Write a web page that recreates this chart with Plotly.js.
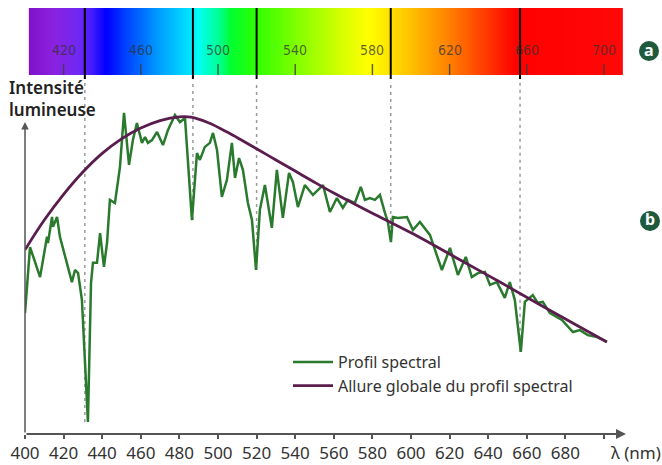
<!DOCTYPE html>
<html><head><meta charset="utf-8">
<script src="https://cdn.plot.ly/plotly-3.0.1.min.js"></script>
<style>html,body{margin:0;padding:0;background:#fff}#chart{width:662px;height:465px}</style>
</head><body><div id="chart"></div>
<script>
// ---------- DATA ----------
const wavelengthSpectral = [400.0,402.6,407.8,409.3,411.4,411.9,414.0,414.5,416.6,418.1,
420.7,422.3,424.3,425.9,427.5,429.5,431.1,432.6,434.2,435.2,
437.3,438.9,440.9,442.5,444.0,446.6,449.2,451.3,453.9,455.9,
458.0,460.6,462.2,463.7,465.8,468.4,471.5,474.1,477.7,480.3,
482.9,486.5,489.1,490.6,493.2,495.8,497.4,499.5,502.0,504.6,
507.2,508.8,510.9,512.9,515.5,517.6,519.7,521.7,524.3,527.9,
530.5,533.6,536.8,538.8,541.4,545.0,549.2,554.4,558.0,561.6,
564.7,567.3,570.9,574.0,576.1,578.7,581.3,583.9,586.5,588.0,
589.6,590.6,593.2,597.9,601.0,604.6,609.8,616.0,620.2,624.3,
628.4,631.5,634.7,638.3,640.9,644.5,648.6,651.2,653.8,656.9,
659.0,663.1,665.7,668.3,672.0,678.2,683.9,687.5,691.6,696.3,
701.5];
const intensitySpectral = [39.0,60.3,50.6,56.1,63.6,61.6,70.0,66.8,70.0,63.6,
57.1,53.9,49.0,52.9,51.9,43.2,21.6,3.9,48.7,55.2,
55.2,64.8,53.9,61.6,75.5,74.5,86.1,103.6,86.8,94.8,
100.3,93.9,95.8,93.9,94.8,97.4,93.2,98.1,102.9,100.6,
101.9,69.0,90.6,88.4,92.6,93.9,97.1,91.6,76.5,81.9,
93.9,82.6,89.0,85.2,74.5,69.0,52.9,72.3,80.3,66.5,
85.2,69.7,84.2,81.3,73.2,80.3,77.1,80.3,71.6,76.1,
72.9,75.5,74.5,79.7,75.5,76.1,75.5,77.1,71.3,68.4,
61.9,70.0,69.7,70.0,65.8,68.4,64.2,52.9,60.0,51.3,
57.1,50.6,51.9,52.3,48.1,49.0,43.9,49.0,43.2,26.5,
42.6,44.8,42.3,42.6,39.0,36.8,32.9,33.5,31.9,31.3,
29.7];
const wavelengthEnvelope = [400,410,420,430,440,450,460,470,480,486,495,505,513,520,530,540,550,560,570,580,604.6,625.3,646.1,666.8,687.5,701.5];
const intensityEnvelope  = [59.4,69.0,77.3,84.5,90.5,95.2,98.7,101.1,102.3,102.2,100.4,97.3,94.5,92.0,88.4,84.8,81.2,77.7,74.4,71.2,63.4,56.2,49.0,41.7,34.5,29.7];
const xTickValues = [400,420,440,460,480,500,520,540,560,580,600,620,640,660,680,700];
const xTickLabels = ["400","420","440","460","480","500","520","540","560","580","600","620","640","660","680",""];
const spectrumLabels = [420,460,500,540,580,620,660,700];
const absorptionLines = [431,487,520,589.5,656.5];
const spectrumStopWl = [402,415,428,436,442,455,470,484,490,500,507,520,545,565,578,590,605,620,635,648,655,710];
const spectrumStopColor = ['#8012c8','#8a22e0','#7028f4','#3818ff','#0000ff','#0050ff','#00a0ff','#00dcff','#00fff4','#00ff98','#00ff30','#30ff00','#90ff00','#d8ff00','#ffff00','#ffe000','#ffb000','#ff8000','#ff4800','#ff1800','#ff0000','#ff0808'];
const legendNames = ["Profil spectral","Allure globale du profil spectral"];

// ---------- GEOMETRY ----------
const W=662,H=465,L=25,R=36,T=8,B=31;
const xMin=400, xMax=711.4, yMax=137.4;
const PW=W-L-R, PH=H-T-B;
const yD = p => (H-B-p)*yMax/PH;        // pixel row -> data y
const xP = p => (p-L)/PW, yP = p => (H-B-p)/PH; // pixel -> paper

// spectrum gradient (decorative colour bar)
const wl0=spectrumStopWl[0], wl1=spectrumStopWl[spectrumStopWl.length-1];
const barEdges=[], barZ=[];
for(let w=wl0; w<=wl1; w+=1){ barEdges.push(w); }
for(let i=0;i<barEdges.length-1;i++){ barZ.push((barEdges[i]+barEdges[i+1])/2); }
const colorscale = spectrumStopWl.map((w,i)=>[(w-wl0)/(wl1-wl0), spectrumStopColor[i]]);

const FONT="Noto Sans, Open Sans, DejaVu Sans, sans-serif";

const traces = [
 {type:'heatmap', x:barEdges, y:[yD(75), yD(8)], z:[barZ], zmin:wl0, zmax:wl1,
  colorscale:colorscale, showscale:false, hoverinfo:'skip', showlegend:false},
 {type:'scatter', mode:'lines', name:legendNames[0], x:wavelengthSpectral, y:intensitySpectral,
  line:{color:'#2a7a2e', width:2.5}},
 {type:'scatter', mode:'lines', name:legendNames[1], x:wavelengthEnvelope, y:intensityEnvelope,
  line:{color:'#5a1d4e', width:2.8, shape:'spline', smoothing:1}}
];

function depthAt(w){
  let m=Infinity;
  wavelengthSpectral.forEach((x,i)=>{ if(Math.abs(x-w)<=2.5) m=Math.min(m,intensitySpectral[i]); });
  return m;
}

const shapes=[];
absorptionLines.forEach(w=>{
  shapes.push({type:'line', xref:'x', yref:'y', x0:w, x1:w, y0:yD(79), y1:yMax, line:{color:'#000', width:2}, layer:'above'});
  shapes.push({type:'line', xref:'x', yref:'y', x0:w, x1:w, y0:depthAt(w), y1:yD(82), line:{color:'#9a9a9a', width:1.5, dash:'3px,4px'}, layer:'below'});
});
spectrumLabels.forEach(w=>{
  shapes.push({type:'line', xref:'x', yref:'y', x0:w, x1:w, y0:yD(75), y1:yD(64), line:{color:'rgba(60,60,60,0.8)', width:1.5}, layer:'above'});
});
[[649,51,'a'],[650,221,'b']].forEach(c=>{
  shapes.push({type:'circle', xref:'paper', yref:'paper', xsizemode:'pixel', ysizemode:'pixel',
    xanchor:xP(c[0]), yanchor:yP(c[1]), x0:-10, x1:10, y0:-10, y1:10,
    fillcolor:'#1e5a3c', line:{width:0}});
});

const annotations=[
 {x:xMax, y:0, ax:xMin, ay:0, axref:'x', ayref:'y', xref:'x', yref:'y', text:'', showarrow:true,
  arrowhead:2, arrowsize:1, arrowwidth:2, arrowcolor:'#555', standoff:0, startstandoff:0},
 {x:xMin, y:yD(122), ax:xMin, ay:0, axref:'x', ayref:'y', xref:'x', yref:'y', text:'', showarrow:true,
  arrowhead:2, arrowsize:1, arrowwidth:1.5, arrowcolor:'#555', standoff:0, startstandoff:0},
 {xref:'paper', yref:'paper', x:xP(609), y:yP(452), xanchor:'left', yanchor:'middle', showarrow:false,
  text:'λ (nm)', font:{family:FONT, size:17, color:'#333'}},
 {xref:'paper', yref:'paper', x:xP(7), y:yP(98), xanchor:'left', yanchor:'middle', showarrow:false, align:'left',
  text:'Intensité<br>lumineuse', font:{family:FONT, size:17, color:'#222', weight:600}},
 {xref:'paper', yref:'paper', x:xP(649), y:yP(50), xanchor:'center', yanchor:'middle', showarrow:false,
  text:'a', font:{family:FONT, size:16, color:'#fff', weight:700}},
 {xref:'paper', yref:'paper', x:xP(650), y:yP(219), xanchor:'center', yanchor:'middle', showarrow:false,
  text:'b', font:{family:FONT, size:16, color:'#fff', weight:700}}
];
spectrumLabels.forEach(w=>{
  annotations.push({xref:'x', yref:'y', x:w, y:yD(50), showarrow:false, text:String(w),
    font:{family:"Liberation Sans Narrow, DejaVu Sans Condensed, sans-serif", size:14, color:'rgba(50,50,50,0.75)'}});
});

const layout={
  width:W, height:H, margin:{l:L, r:R, t:T, b:B, pad:0},
  paper_bgcolor:'#fff', plot_bgcolor:'rgba(0,0,0,0)',
  showlegend:true,
  legend:{x:xP(288), y:yP(345), xanchor:'left', yanchor:'top', bgcolor:'rgba(0,0,0,0)',
    font:{family:FONT, size:16, color:'#333'}, itemwidth:40, tracegroupgap:0},
  xaxis:{range:[xMin,xMax], showgrid:false, zeroline:false, showline:false,
    tickmode:'array', tickvals:xTickValues, ticktext:xTickLabels,
    ticks:'outside', ticklen:4, tickwidth:2, tickcolor:'#555',
    tickfont:{family:FONT, size:17, color:'#333'}, fixedrange:true},
  yaxis:{range:[0,yMax], showgrid:false, zeroline:false, showline:false, showticklabels:false, ticks:'', fixedrange:true},
  shapes:shapes, annotations:annotations
};
Plotly.newPlot('chart', traces, layout, {displayModeBar:false, staticPlot:true});
</script></body></html>
